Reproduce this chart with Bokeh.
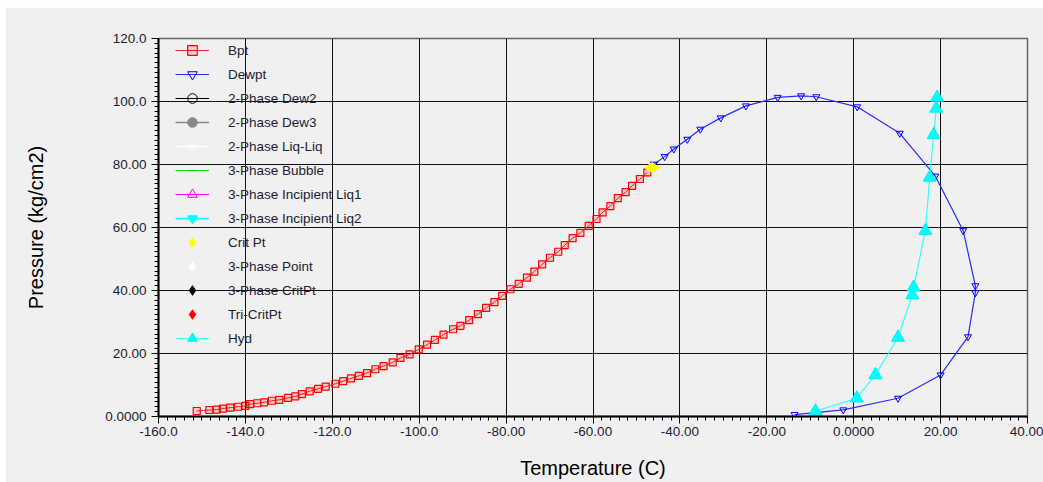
import math
from bokeh.plotting import figure
from bokeh.models import Range1d, SingleIntervalTicker, Legend, LegendItem
from bokeh.embed import file_html
from bokeh.resources import INLINE

# ---------------- data ----------------
bpt_T = [-151.2, -148.3, -146.6, -145.2, -143.5, -141.7, -140.0, -138.9, -137.3, -135.7,
         -133.9, -132.2, -130.2, -128.5, -127.0, -125.2, -123.3, -121.5, -119.3, -117.5,
         -115.7, -113.9, -112.0, -110.1, -108.2, -106.1, -104.3, -102.2, -100.1, -98.2,
         -96.4, -94.4, -92.2, -90.5, -88.5, -86.5, -84.6, -82.7, -80.9, -79.0,
         -77.1, -75.2, -73.5, -71.7, -69.9, -68.0, -66.5, -64.7, -62.9, -61.0,
         -59.2, -57.8, -56.0, -54.3, -52.5, -51.0, -49.2, -47.5]
bpt_P = [1.75, 2.06, 2.2, 2.5, 2.8, 3.1, 3.4, 3.9, 4.2, 4.5,
         5.0, 5.3, 5.9, 6.4, 7.1, 8.0, 8.8, 9.5, 10.4, 11.2,
         12.1, 12.9, 13.8, 15.0, 16.0, 17.2, 18.6, 19.7, 21.3, 22.8,
         24.3, 26.0, 27.7, 28.8, 30.6, 32.5, 34.5, 36.3, 38.3, 40.4,
         42.1, 44.1, 46.0, 48.3, 50.4, 52.3, 54.4, 56.6, 58.3, 60.5,
         62.7, 64.8, 66.8, 69.3, 71.2, 73.2, 75.4, 77.5]

dew_T = [-46.0, -43.5, -41.4, -38.3, -35.3, -30.6, -24.8, -17.5, -12.1, -8.6,
         0.8, 10.6, 18.8, 25.2, 28.0, 28.0, 26.3, 20.0, 10.2, -2.4, -13.6]
dew_P = [80.1, 82.5, 84.9, 88.0, 91.2, 94.8, 98.6, 101.3, 101.8, 101.5,
         98.3, 89.9, 76.3, 59.0, 41.5, 39.3, 25.3, 13.2, 5.8, 2.1, 0.6]

hyd_T = [-8.8, 0.7, 5.0, 10.2, 13.5, 13.8, 16.5, 17.5, 18.4, 19.0, 19.2]
hyd_P = [1.7, 5.8, 13.2, 25.1, 38.6, 41.0, 59.0, 75.9, 89.4, 97.8, 101.3]

crit_T = [-46.4]
crit_P = [79.0]

# series listed in the legend but holding no points (NaN = no value)
NAN = float("nan")
dew2_T, dew2_P = [NAN], [NAN]
dew3_T, dew3_P = [NAN], [NAN]
liqliq_T, liqliq_P = [NAN], [NAN]
bubble_T, bubble_P = [NAN], [NAN]
liq1_T, liq1_P = [NAN], [NAN]
liq2_T, liq2_P = [NAN], [NAN]
pt3_T, pt3_P = [NAN], [NAN]
crit3_T, crit3_P = [NAN], [NAN]
tricrit_T, tricrit_P = [NAN], [NAN]

x_tick_labels = {-160: "-160.0", -140: "-140.0", -120: "-120.0", -100: "-100.0",
                 -80: "-80.00", -60: "-60.00", -40: "-40.00", -20: "-20.00",
                 0: "0.0000", 20: "20.00", 40: "40.00"}
y_tick_labels = {0: "0.0000", 20: "20.00", 40: "40.00", 60: "60.00",
                 80: "80.00", 100: "100.0", 120: "120.0"}

BG = "#f0f0f0"
FONT = "Liberation Sans"

p = figure(width=1038, height=475, output_backend="svg", toolbar_location=None,
           x_range=Range1d(-160, 40), y_range=Range1d(0, 120),
           min_border_left=153, min_border_right=16, min_border_top=31, min_border_bottom=66,
           background_fill_color=BG, border_fill_color=BG, margin=(7, 0, 0, 5))
p.outline_line_color = "#666666"
p.outline_line_width = 1.5

p.xaxis.ticker = SingleIntervalTicker(interval=20, num_minor_ticks=10)
p.yaxis.ticker = SingleIntervalTicker(interval=20, num_minor_ticks=13)
p.xgrid.ticker = p.xaxis.ticker
p.ygrid.ticker = p.yaxis.ticker
p.xaxis.major_label_overrides = x_tick_labels
p.yaxis.major_label_overrides = y_tick_labels

for ax in (p.xaxis, p.yaxis):
    ax.axis_line_color = "black"
    ax.axis_line_width = 2
    ax.major_tick_in = 0
    ax.major_tick_out = 7
    ax.minor_tick_in = 0
    ax.minor_tick_out = 4
    ax.major_tick_line_color = "black"
    ax.minor_tick_line_color = "black"
    ax.major_label_text_font = FONT
    ax.major_label_text_font_size = "13.5px"
    ax.major_label_text_color = "#222233"
    ax.axis_label_text_font = FONT
    ax.axis_label_text_font_size = "20px"
    ax.axis_label_text_font_style = "normal"
    ax.axis_label_text_color = "black"

p.xaxis.axis_label = "Temperature (C)"
p.yaxis.axis_label = "Pressure (kg/cm2)"
p.xaxis.major_label_standoff = 3
p.xaxis.axis_label_standoff = 18
p.yaxis.major_label_standoff = 5
p.yaxis.axis_label_standoff = 55

p.xgrid.grid_line_color = "#111111"
p.ygrid.grid_line_color = "#111111"
p.xgrid.grid_line_width = 1
p.ygrid.grid_line_width = 1

# --------------- renderers ---------------
bpt_l = p.line(bpt_T, bpt_P, line_color="#ff2020", line_width=1)
bpt_m = p.scatter(bpt_T, bpt_P, marker="square", size=7, line_color="#ff0000",
                  fill_color="#ff0000", fill_alpha=0.15, line_width=1.2)

dew_l = p.line(dew_T, dew_P, line_color="#2a2aff", line_width=1.2)
dew_m = p.scatter(dew_T, dew_P, marker="inverted_triangle", size=7, line_color="#0000ff",
                  fill_color=None, line_width=1)

dew2_l = p.line(dew2_T, dew2_P, line_color="black", line_width=1)
dew2_m = p.scatter(dew2_T, dew2_P, marker="circle", size=7, line_color="black", fill_color=None)
dew3_l = p.line(dew3_T, dew3_P, line_color="#888888", line_width=1.5)
dew3_m = p.scatter(dew3_T, dew3_P, marker="circle", size=7, line_color="#888888", fill_color="#888888")
ll_l = p.line(liqliq_T, liqliq_P, line_color="white", line_width=1.5)
ll_m = p.scatter(liqliq_T, liqliq_P, marker="x", size=5, line_color="white")
bub_l = p.line(bubble_T, bubble_P, line_color="#00ee00", line_width=1.2)
bub_m = p.scatter(bubble_T, bubble_P, marker="dash", angle=math.pi / 2, size=6, line_color="#00cc00")
l1_l = p.line(liq1_T, liq1_P, line_color="#ff00ff", line_width=1)
l1_m = p.scatter(liq1_T, liq1_P, marker="triangle", size=7, line_color="#ff00ff", fill_color=None)
l2_l = p.line(liq2_T, liq2_P, line_color="#00ffff", line_width=1.5)
l2_m = p.scatter(liq2_T, liq2_P, marker="inverted_triangle", size=8, line_color="#00ffff", fill_color="#00ffff")

crit_m = p.scatter(crit_T, crit_P, marker="diamond", angle=math.pi / 2, size=15,
                   line_color="#ffff00", fill_color="#ffff00")
pt3_m = p.scatter(pt3_T, pt3_P, marker="diamond", angle=math.pi / 2, size=15, line_color="white", fill_color="white")
c3_m = p.scatter(crit3_T, crit3_P, marker="diamond", angle=math.pi / 2, size=15, line_color="black", fill_color="black")
tc_m = p.scatter(tricrit_T, tricrit_P, marker="diamond", angle=math.pi / 2, size=15, line_color="#ff0000", fill_color="#ff0000")

hyd_l = p.line(hyd_T, hyd_P, line_color="#33ffff", line_width=1.2)
hyd_m = p.scatter(hyd_T, hyd_P, marker="triangle", size=13, line_color="#00eeee", fill_color="#00ffff")

items = [
    LegendItem(label="Bpt", renderers=[bpt_l, bpt_m]),
    LegendItem(label="Dewpt", renderers=[dew_l, dew_m]),
    LegendItem(label="2-Phase Dew2", renderers=[dew2_l, dew2_m]),
    LegendItem(label="2-Phase Dew3", renderers=[dew3_l, dew3_m]),
    LegendItem(label="2-Phase Liq-Liq", renderers=[ll_l, ll_m]),
    LegendItem(label="3-Phase Bubble", renderers=[bub_l, bub_m]),
    LegendItem(label="3-Phase Incipient Liq1", renderers=[l1_l, l1_m]),
    LegendItem(label="3-Phase Incipient Liq2", renderers=[l2_l, l2_m]),
    LegendItem(label="Crit Pt", renderers=[crit_m]),
    LegendItem(label="3-Phase Point", renderers=[pt3_m]),
    LegendItem(label="3-Phase CritPt", renderers=[c3_m]),
    LegendItem(label="Tri-CritPt", renderers=[tc_m]),
    LegendItem(label="Hyd", renderers=[hyd_l, hyd_m]),
]
legend = Legend(items=items, location=(17, 66), margin=0, padding=4, spacing=0,
                glyph_width=34, glyph_height=24, label_height=24, label_standoff=19,
                label_text_font=FONT, label_text_font_size="13.5px", label_text_color="#222233",
                background_fill_alpha=0, border_line_color=None)
p.add_layout(legend)

open("out.html", "w").write(file_html(p, INLINE))
